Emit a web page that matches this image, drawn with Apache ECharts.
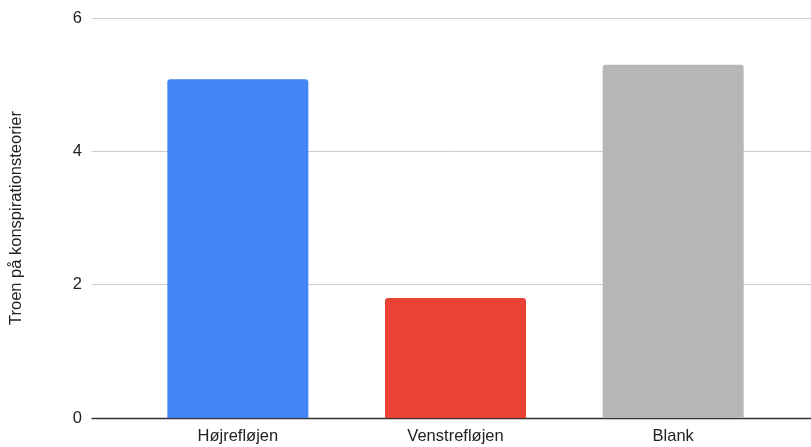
<!DOCTYPE html>
<html>
<head>
<meta charset="utf-8">
<script src="https://cdn.jsdelivr.net/npm/echarts@6/dist/echarts.min.js"></script>
<style>html,body{margin:0;padding:0;background:#fff}#c{width:811px;height:447px}</style>
</head>
<body>
<div id="c"></div>
<script>
var categories = ['Højrefløjen', 'Venstrefløjen', 'Blank'];
var values = [5.08, 1.8, 5.3];
var barColors = ['#4285F4', '#EA4335', '#B7B7B7'];
var yTitle = 'Troen på konspirationsteorier';

var chart = echarts.init(document.getElementById('c'));
var font = 'Liberation Sans, Arial, sans-serif';
chart.setOption({
  animation: false,
  grid: [
    {left: 92, right: 0, top: 18, bottom: 29},
    {left: 129, right: 29, top: 18, bottom: 29}
  ],
  xAxis: [
    {gridIndex: 0, type: 'value', min: 0, max: 1, axisLine: {show: true, onZero: false, lineStyle: {color: '#333', width: 1.3}},
     axisTick: {show: false}, axisLabel: {show: false}, splitLine: {show: false}},
    {gridIndex: 1, type: 'category', data: categories, axisLine: {show: false}, axisTick: {show: false},
     axisLabel: {color: '#222', fontSize: 16.5, fontFamily: font, margin: 10}}
  ],
  yAxis: [
    {gridIndex: 0, type: 'value', min: 0, max: 6, interval: 2,
     name: yTitle, nameLocation: 'middle', nameGap: 67, nameTextStyle: {color: '#222', fontSize: 16.5, fontFamily: font},
     axisLine: {show: false}, axisTick: {show: false},
     axisLabel: {color: '#222', fontSize: 16.5, fontFamily: font, margin: 10},
     splitLine: {lineStyle: {color: '#cccccc', width: 1}}},
    {gridIndex: 1, type: 'value', min: 0, max: 6, interval: 2, show: false, splitLine: {show: false}}
  ],
  series: [{
    type: 'bar', xAxisIndex: 1, yAxisIndex: 1,
    data: values.map(function (v, i) { return {value: v, itemStyle: {color: barColors[i]}}; }),
    barWidth: 141,
    itemStyle: {borderRadius: [3, 3, 0, 0]},
    z: 1
  }]
});
</script>
</body>
</html>
